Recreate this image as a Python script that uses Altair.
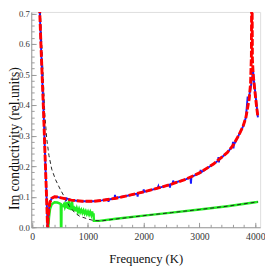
import altair as alt
import pandas as pd

# ---- data ----
red_f = [120, 134, 160, 190, 205, 233, 255, 268, 276, 285, 300, 318, 350, 400, 450, 500, 600, 700, 800, 900,
         1000, 1100, 1250, 1500, 1750, 2000, 2250, 2500, 2750, 3000, 3250, 3500, 3600, 3700, 3780, 3832,
         3890, 3915, 3930, 3936, 3941, 3948, 3962, 3990, 4020, 4047]
red_v = [0.78, 0.71, 0.58, 0.44, 0.37, 0.22, 0.11, 0.04, -0.005, 0.03, 0.06, 0.082, 0.095, 0.10, 0.099, 0.097,
         0.093, 0.089, 0.087, 0.085, 0.085, 0.085, 0.088, 0.095, 0.105, 0.116, 0.128, 0.141, 0.157, 0.178,
         0.207, 0.245, 0.268, 0.30, 0.33, 0.36, 0.42, 0.47, 0.56, 0.80, 0.80, 0.55, 0.50, 0.45, 0.40, 0.36]

blue_f = [120, 134, 160, 190, 205, 233, 255, 268, 276, 285, 300, 318, 350, 400, 450, 500, 590, 600, 610, 700,
          800, 900, 1000, 1100, 1250, 1360, 1368, 1376, 1476, 1484, 1492, 1750, 1882, 1890, 1898, 1992, 2000,
          2008, 2250, 2262, 2270, 2462, 2470, 2478, 2519, 2527, 2535, 2750, 2838, 2846, 2854, 3012, 3020,
          3028, 3250, 3332, 3340, 3348, 3354, 3500, 3592, 3600, 3608, 3616, 3700, 3780, 3832, 3862, 3885,
          3920, 3950, 3962, 3975, 4000, 4047]
blue_v = [0.78, 0.71, 0.58, 0.44, 0.37, 0.22, 0.11, 0.04, -0.005, 0.03, 0.06, 0.082, 0.095, 0.10, 0.099, 0.097,
          0.094, 0.09, 0.095, 0.089, 0.087, 0.085, 0.085, 0.085, 0.088, 0.092, 0.083, 0.091, 0.094, 0.106,
          0.096, 0.105, 0.11, 0.10, 0.112, 0.115, 0.124, 0.116, 0.128, 0.134, 0.129, 0.139, 0.13, 0.141,
          0.143, 0.153, 0.145, 0.157, 0.163, 0.143, 0.165, 0.178, 0.188, 0.18, 0.207, 0.218, 0.23, 0.212,
          0.222, 0.245, 0.265, 0.28, 0.258, 0.27, 0.30, 0.33, 0.36, 0.425, 0.425, 0.46, 0.50, 0.51, 0.48,
          0.44, 0.36]

green_f = [285, 300, 320, 350, 400, 450, 490, 512, 516, 522, 526, 550, 570, 585, 600, 615, 630, 645, 660, 672,
           685, 700, 715, 728, 740, 755, 770, 785, 800, 820, 840, 860, 880, 900, 920, 940, 960, 980, 1000,
           1020, 1040, 1060, 1075, 1090, 1100, 1105, 1200, 1500, 2000, 2500, 3000, 3500, 4000, 4050]
green_v = [-0.01, 0.03, 0.06, 0.075, 0.082, 0.081, 0.078, 0.076, -0.01, -0.01, 0.072, 0.07, 0.076, 0.066,
           0.074, 0.063, 0.082, 0.06, 0.088, 0.058, 0.078, 0.056, 0.085, 0.055, 0.07, 0.053, 0.066, 0.052,
           0.062, 0.05, 0.06, 0.049, 0.057, 0.047, 0.055, 0.045, 0.053, 0.043, 0.051, 0.041, 0.05, 0.04,
           0.052, 0.036, 0.046, 0.021, 0.021, 0.028, 0.038, 0.048, 0.058, 0.069, 0.082, 0.083]

black_f = [140, 190, 226, 260, 300, 350, 420, 500, 590, 670, 760, 850, 1000, 1100, 1250, 1500, 2000, 2500,
           3000, 3500, 4000, 4050]
black_v = [0.73, 0.52, 0.37, 0.29, 0.235, 0.19, 0.155, 0.125, 0.095, 0.068, 0.048, 0.036, 0.027, 0.022,
           0.021, 0.027, 0.038, 0.048, 0.058, 0.069, 0.082, 0.083]

x_major = [0, 1000, 2000, 3000, 4000]
x_minor = list(range(0, 4001, 200))
y_major = [0.0, 0.1, 0.2, 0.3, 0.4, 0.5, 0.6, 0.7]
y_minor = [round(i * 0.02, 2) for i in range(36)]

X_DOM = [-17, 4087]
Y_DOM = [0, 0.705]
FONT = "Liberation Serif"
GRAY = "#9a9a9a"


def frame(f, v):
    return pd.DataFrame({"f": f, "v": v})


def xs(axis):
    return alt.X("f:Q", scale=alt.Scale(domain=X_DOM, nice=False, zero=False), axis=axis)


def ys(axis):
    return alt.Y("v:Q", scale=alt.Scale(domain=Y_DOM, nice=False, zero=False), axis=axis)


main_x_axis = alt.Axis(values=x_major, format="d", title="Frequency (K)", orient="bottom",
                       grid=False, ticks=False, tickSize=0, domainColor=GRAY, domainWidth=1,
                       labelFont=FONT, labelFontSize=10, labelColor="#333", labelPadding=5,
                       labelFlush=False,
                       titleFont=FONT, titleFontSize=13, titleFontWeight="normal", titleColor="#111",
                       titleBaseline="alphabetic", titleY=36)
main_y_axis = alt.Axis(values=y_major, format=".1f", title="Im conductivity (rel.units)", orient="left",
                       grid=False, ticks=False, tickSize=0, domainColor=GRAY, domainWidth=1,
                       labelFont=FONT, labelFontSize=9, labelColor="#333", labelPadding=2,
                       labelFlush=False,
                       titleFont=FONT, titleFontSize=14, titleFontWeight="normal", titleColor="#111",
                       titleBaseline="alphabetic", titleX=-13.5, titleY=130, titleAngle=270,
                       titleAlign="center")

green = alt.Chart(frame(green_f, green_v)).mark_line(color="#22ee22", strokeWidth=2.5, clip=True).encode(
    x=xs(main_x_axis), y=ys(main_y_axis), order="f:Q")
black = alt.Chart(frame(black_f, black_v)).mark_line(color="#222222", strokeWidth=1, strokeDash=[4, 3],
                                                     clip=True).encode(
    x=xs(None), y=ys(None), order="f:Q")
blue = alt.Chart(frame(blue_f, blue_v)).mark_line(color="#1a1aff", strokeWidth=2, clip=True).encode(
    x=xs(None), y=ys(None), order="f:Q")
red = alt.Chart(frame(red_f, red_v)).mark_line(color="#ff0000", strokeWidth=3, strokeDash=[7, 2],
                                               clip=True).encode(
    x=xs(None), y=ys(None), order="f:Q")


def tick_axis(values, orient, size):
    return alt.Axis(values=values, orient=orient, offset=-size, tickSize=size, tickColor=GRAY,
                    labels=False, domain=False, grid=False, title=None)


minor = alt.Chart(frame([0], [0])).mark_point(opacity=0).encode(
    x=xs(tick_axis(x_minor, "bottom", 3)), y=ys(tick_axis(y_minor, "left", 3)))
major = alt.Chart(frame([0], [0])).mark_point(opacity=0).encode(
    x=xs(tick_axis(x_major, "bottom", 5)), y=ys(tick_axis(y_major, "left", 5)))

chart = alt.layer(green, black, blue, red, minor, major).resolve_scale(
    x="shared", y="shared").resolve_axis(x="independent", y="independent").properties(
    width=236, height=222, padding={"left": 24, "top": 0, "right": 5, "bottom": 40},
    autosize=alt.AutoSizeParams(type="none")).configure_view(stroke=None).configure(background="white")

chart.save("out.html", embed_options={"renderer": "svg", "actions": False})
